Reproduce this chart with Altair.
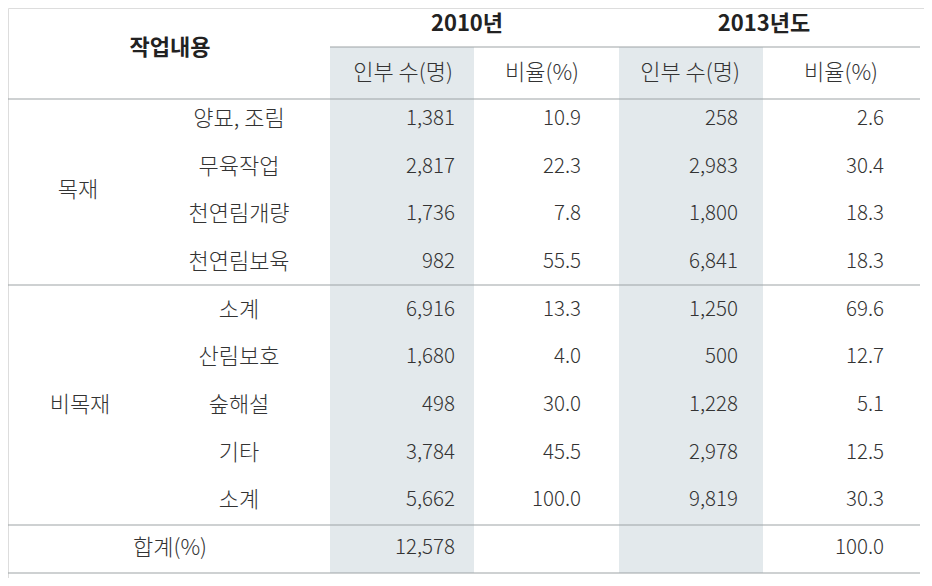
import altair as alt
import pandas as pd

# ---- data ----
groups = ["목재", "비목재"]
group_rows = [[0, 1, 2, 3], [4, 5, 6, 7, 8]]
items = ["양묘, 조림", "무육작업", "천연림개량", "천연림보육", "소계",
         "산림보호", "숲해설", "기타", "소계"]
workers_2010 = [1381, 2817, 1736, 982, 6916, 1680, 498, 3784, 5662]
ratio_2010 = [10.9, 22.3, 7.8, 55.5, 13.3, 4.0, 30.0, 45.5, 100.0]
workers_2013 = [258, 2983, 1800, 6841, 1250, 500, 1228, 2978, 9819]
ratio_2013 = [2.6, 30.4, 18.3, 18.3, 69.6, 12.7, 5.1, 12.5, 30.3]
total_label = "합계(%)"
total_workers_2010 = 12578
total_ratio_2013 = 100.0
head_main = "작업내용"
years = ["2010년", "2013년도"]
subheads = ["인부 수(명)", "비율(%)", "인부 수(명)", "비율(%)"]

# ---- layout (screen px) ----
FONT = "Noto Sans CJK KR"
TXT = "#333333"
LINE = "#9ea3a6"
SHADE = "#e3e9ec"
KSIZE = 22
NSIZE = 20.5
row_y0, pitch = 119, 47.65
ys = [row_y0 + i * pitch for i in range(len(items) + 1)]
col_edges = [330, 474, 619, 763, 920]
num_right = [455, 581, 738, 884]

X = alt.X("x:Q", scale=alt.Scale(domain=[8, 924], nice=False, zero=False), axis=None)
Y = alt.Y("y:Q", scale=alt.Scale(domain=[8, 578], nice=False, zero=False, reverse=True), axis=None)

shade_df = pd.DataFrame({"x": [col_edges[0], col_edges[2]], "x2": [col_edges[1], col_edges[3]],
                         "y": [47, 47], "y2": [573, 573]})
shade = alt.Chart(shade_df).mark_rect(color=SHADE).encode(x=X, x2="x2:Q", y=Y, y2="y2:Q")

rules_df = pd.DataFrame({"x": [8, 330, 8, 8, 8, 8], "x2": [920, 920, 920, 920, 920, 920],
                         "y": [7, 47, 99, 285, 525, 573]})
rules = alt.Chart(rules_df).mark_rule(color=LINE, strokeWidth=1.2).encode(x=X, x2="x2:Q", y=Y)

# header texts
hdr_bold = pd.DataFrame({"x": [170, 467, 764], "y": [48, 24, 24], "t": [head_main] + years})
hdr_b = alt.Chart(hdr_bold).mark_text(font=FONT, fontSize=KSIZE, fontWeight="bold", color="#222222",
                                      baseline="middle", align="center").encode(x=X, y=Y, text="t:N")
sub_df = pd.DataFrame({"x": [403, 542, 690, 841], "y": [73] * 4, "t": subheads})
sub = alt.Chart(sub_df).mark_text(font=FONT, fontSize=KSIZE, fontWeight=300, color=TXT,
                                  baseline="middle", align="center").encode(x=X, y=Y, text="t:N")

# group labels
grp_df = pd.DataFrame({"x": [78, 80],
                       "y": [sum(ys[i] for i in r) / len(r) for r in group_rows],
                       "t": groups})
grp = alt.Chart(grp_df).mark_text(font=FONT, fontSize=KSIZE, fontWeight=300, color=TXT,
                                  baseline="middle", align="center").encode(x=X, y=Y, text="t:N")

item_df = pd.DataFrame({"x": [239] * len(items) + [170], "y": ys, "t": items + [total_label]})
itm = alt.Chart(item_df).mark_text(font=FONT, fontSize=KSIZE, fontWeight=300, color=TXT,
                                   baseline="middle", align="center").encode(x=X, y=Y, text="t:N")

w_df = pd.DataFrame({"x": [num_right[0]] * len(items) + [num_right[0]] + [num_right[2]] * len(items),
                     "y": ys[:len(items)] + [ys[-1]] + ys[:len(items)],
                     "v": workers_2010 + [total_workers_2010] + workers_2013})
w = alt.Chart(w_df).mark_text(font=FONT, fontSize=NSIZE, fontWeight=300, color=TXT, baseline="middle",
                              align="right").encode(x=X, y=Y, text=alt.Text("v:Q", format=",d"))

r_df = pd.DataFrame({"x": [num_right[1]] * len(items) + [num_right[3]] * len(items) + [num_right[3]],
                     "y": ys[:len(items)] * 2 + [ys[-1]],
                     "v": ratio_2010 + ratio_2013 + [total_ratio_2013]})
r = alt.Chart(r_df).mark_text(font=FONT, fontSize=NSIZE, fontWeight=300, color=TXT, baseline="middle",
                              align="right").encode(x=X, y=Y, text=alt.Text("v:Q", format=".1f"))

chart = alt.layer(shade, rules, hdr_b, sub, grp, itm, w, r).properties(
    width=916, height=570, padding=0, autosize=alt.AutoSizeParams(type="none")
).configure_view(stroke=None).configure(background="white")

chart.save("out.html", embed_options={"renderer": "svg", "actions": False})
